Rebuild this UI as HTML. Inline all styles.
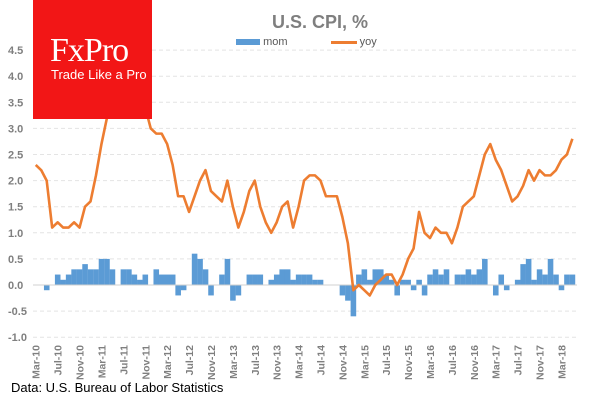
<!DOCTYPE html>
<html><head><meta charset="utf-8"><style>
body{margin:0;background:#fff;width:600px;height:400px;overflow:hidden;font-family:"Liberation Sans",sans-serif}
</style></head><body>
<svg id="c" width="600" height="400" xmlns="http://www.w3.org/2000/svg" font-family="Liberation Sans, sans-serif"></svg>
<script>
const categoriesStart = {year: 2010, month: 2};
const monthNames = ["Jan","Feb","Mar","Apr","May","Jun","Jul","Aug","Sep","Oct","Nov","Dec"];
const yoy = [2.3,2.2,2.0,1.1,1.2,1.1,1.1,1.2,1.1,1.5,
1.6,2.1,2.7,3.2,3.6,3.6,3.6,3.8,3.9,3.5,3.4,3.0,
2.9,2.9,2.7,2.3,1.7,1.7,1.4,1.7,2.0,2.2,1.8,1.7,
1.6,2.0,1.5,1.1,1.4,1.8,2.0,1.5,1.2,1.0,1.2,1.5,
1.6,1.1,1.5,2.0,2.1,2.1,2.0,1.7,1.7,1.7,1.3,0.8,
-0.1,0.0,-0.1,-0.2,0.0,0.1,0.2,0.2,0.0,0.2,0.5,0.7,
1.4,1.0,0.9,1.1,1.0,1.0,0.8,1.1,1.5,1.6,1.7,2.1,
2.5,2.7,2.4,2.2,1.9,1.6,1.7,1.9,2.2,2.0,2.2,2.1,
2.1,2.2,2.4,2.5,2.8];
const mom = [0,0,-0.1,0,0.2,0.1,0.2,0.3,0.3,0.4,
0.3,0.3,0.5,0.5,0.3,0,0.3,0.3,0.2,0.1,0.2,0,
0.3,0.2,0.2,0.2,-0.2,-0.1,0,0.6,0.5,0.3,-0.2,0,
0.2,0.5,-0.3,-0.2,0,0.2,0.2,0.2,0,0.1,0.2,0.3,
0.3,0.1,0.2,0.2,0.2,0.1,0.1,0,0,0,-0.2,-0.3,
-0.6,0.2,0.3,0.1,0.3,0.3,0.2,0.1,-0.2,0.1,0.1,-0.1,
0.1,-0.2,0.2,0.3,0.2,0.3,0,0.2,0.2,0.3,0.2,0.3,
0.5,0,-0.2,0.2,-0.1,0,0.1,0.4,0.5,0.1,0.3,0.2,
0.5,0.2,-0.1,0.2,0.2];
const yTicks = [4.5,4.0,3.5,3.0,2.5,2.0,1.5,1.0,0.5,0.0,-0.5,-1.0];

const svg = document.getElementById('c');
const NS = "http://www.w3.org/2000/svg";
const x0 = 33, step = 5.476;
const yZero = 285, perUnit = 52.2;
const X = i => x0 + step*i + step/2;
const Y = v => yZero - v*perUnit;
function mk(tag, attrs){const e=document.createElementNS(NS,tag);for(const k in attrs)e.setAttribute(k,attrs[k]);svg.appendChild(e);return e;}

yTicks.forEach(t=>{
  if(t!==0){const g=mk('line',{x1:x0,x2:577,y1:Y(t),y2:Y(t),stroke:'#e4e4e4','stroke-dasharray':'4,3'});
  
  }
  const l=mk('text',{x:8,y:Y(t)+4,'font-size':'11','font-weight':'bold',fill:'#7f7f7f'});
  l.textContent=t.toFixed(1);
  
  
});
mom.forEach((v,i)=>{
  const r=mk('rect',{x:x0+step*i,y:Math.min(Y(v),yZero),width:step+0.1,height:Math.abs(Y(v)-yZero),fill:'#5b9bd5'});
  
  
});
const ax=mk('line',{x1:x0,x2:577,y1:yZero,y2:yZero,stroke:'#d0d0d0'});


const p=mk('polyline',{points:yoy.map((v,i)=>X(i)+','+Y(v)).join(' '),fill:'none',stroke:'#ed7d31','stroke-width':'2.6','stroke-linejoin':'round'});


for(let i=0;i<yoy.length;i+=4){
  const m=(categoriesStart.month+i)%12, yr=(categoriesStart.year+Math.floor((categoriesStart.month+i)/12))%100;
  const t=mk('text',{x:0,y:0,'font-size':'10.5','font-weight':'bold',fill:'#7f7f7f','text-anchor':'end',transform:`translate(${X(i)+4},345) rotate(-90)`});
  t.textContent=monthNames[m]+'-'+String(yr).padStart(2,'0');
  
  
}
</script>
<div style="position:absolute;left:33px;top:0;width:119px;height:119px;background:#f21616;color:#fff">
<div style="position:absolute;left:17px;top:34px;font-family:'Liberation Serif',serif;font-size:34px;letter-spacing:-1px;line-height:34px">FxPro</div>
<div style="position:absolute;left:18px;top:67px;font-size:13px;white-space:nowrap">Trade Like a Pro</div>
</div>
<div style="position:absolute;left:200px;width:240px;text-align:center;top:12px;font-size:18px;font-weight:bold;color:#7f7f7f">U.S. CPI, %</div>
<div style="position:absolute;left:236px;top:36px;font-size:11px;color:#595959;white-space:nowrap">
<span style="display:inline-block;width:24px;height:6px;background:#5b9bd5;vertical-align:middle"></span>
<span>mom</span>
<span style="display:inline-block;width:26px;height:3px;background:#ed7d31;vertical-align:middle;margin-left:40px"></span>
<span>yoy</span>
</div>
<div style="position:absolute;left:11px;top:380px;font-size:13px;color:#000">Data: U.S. Bureau of Labor Statistics</div>
</body></html>
